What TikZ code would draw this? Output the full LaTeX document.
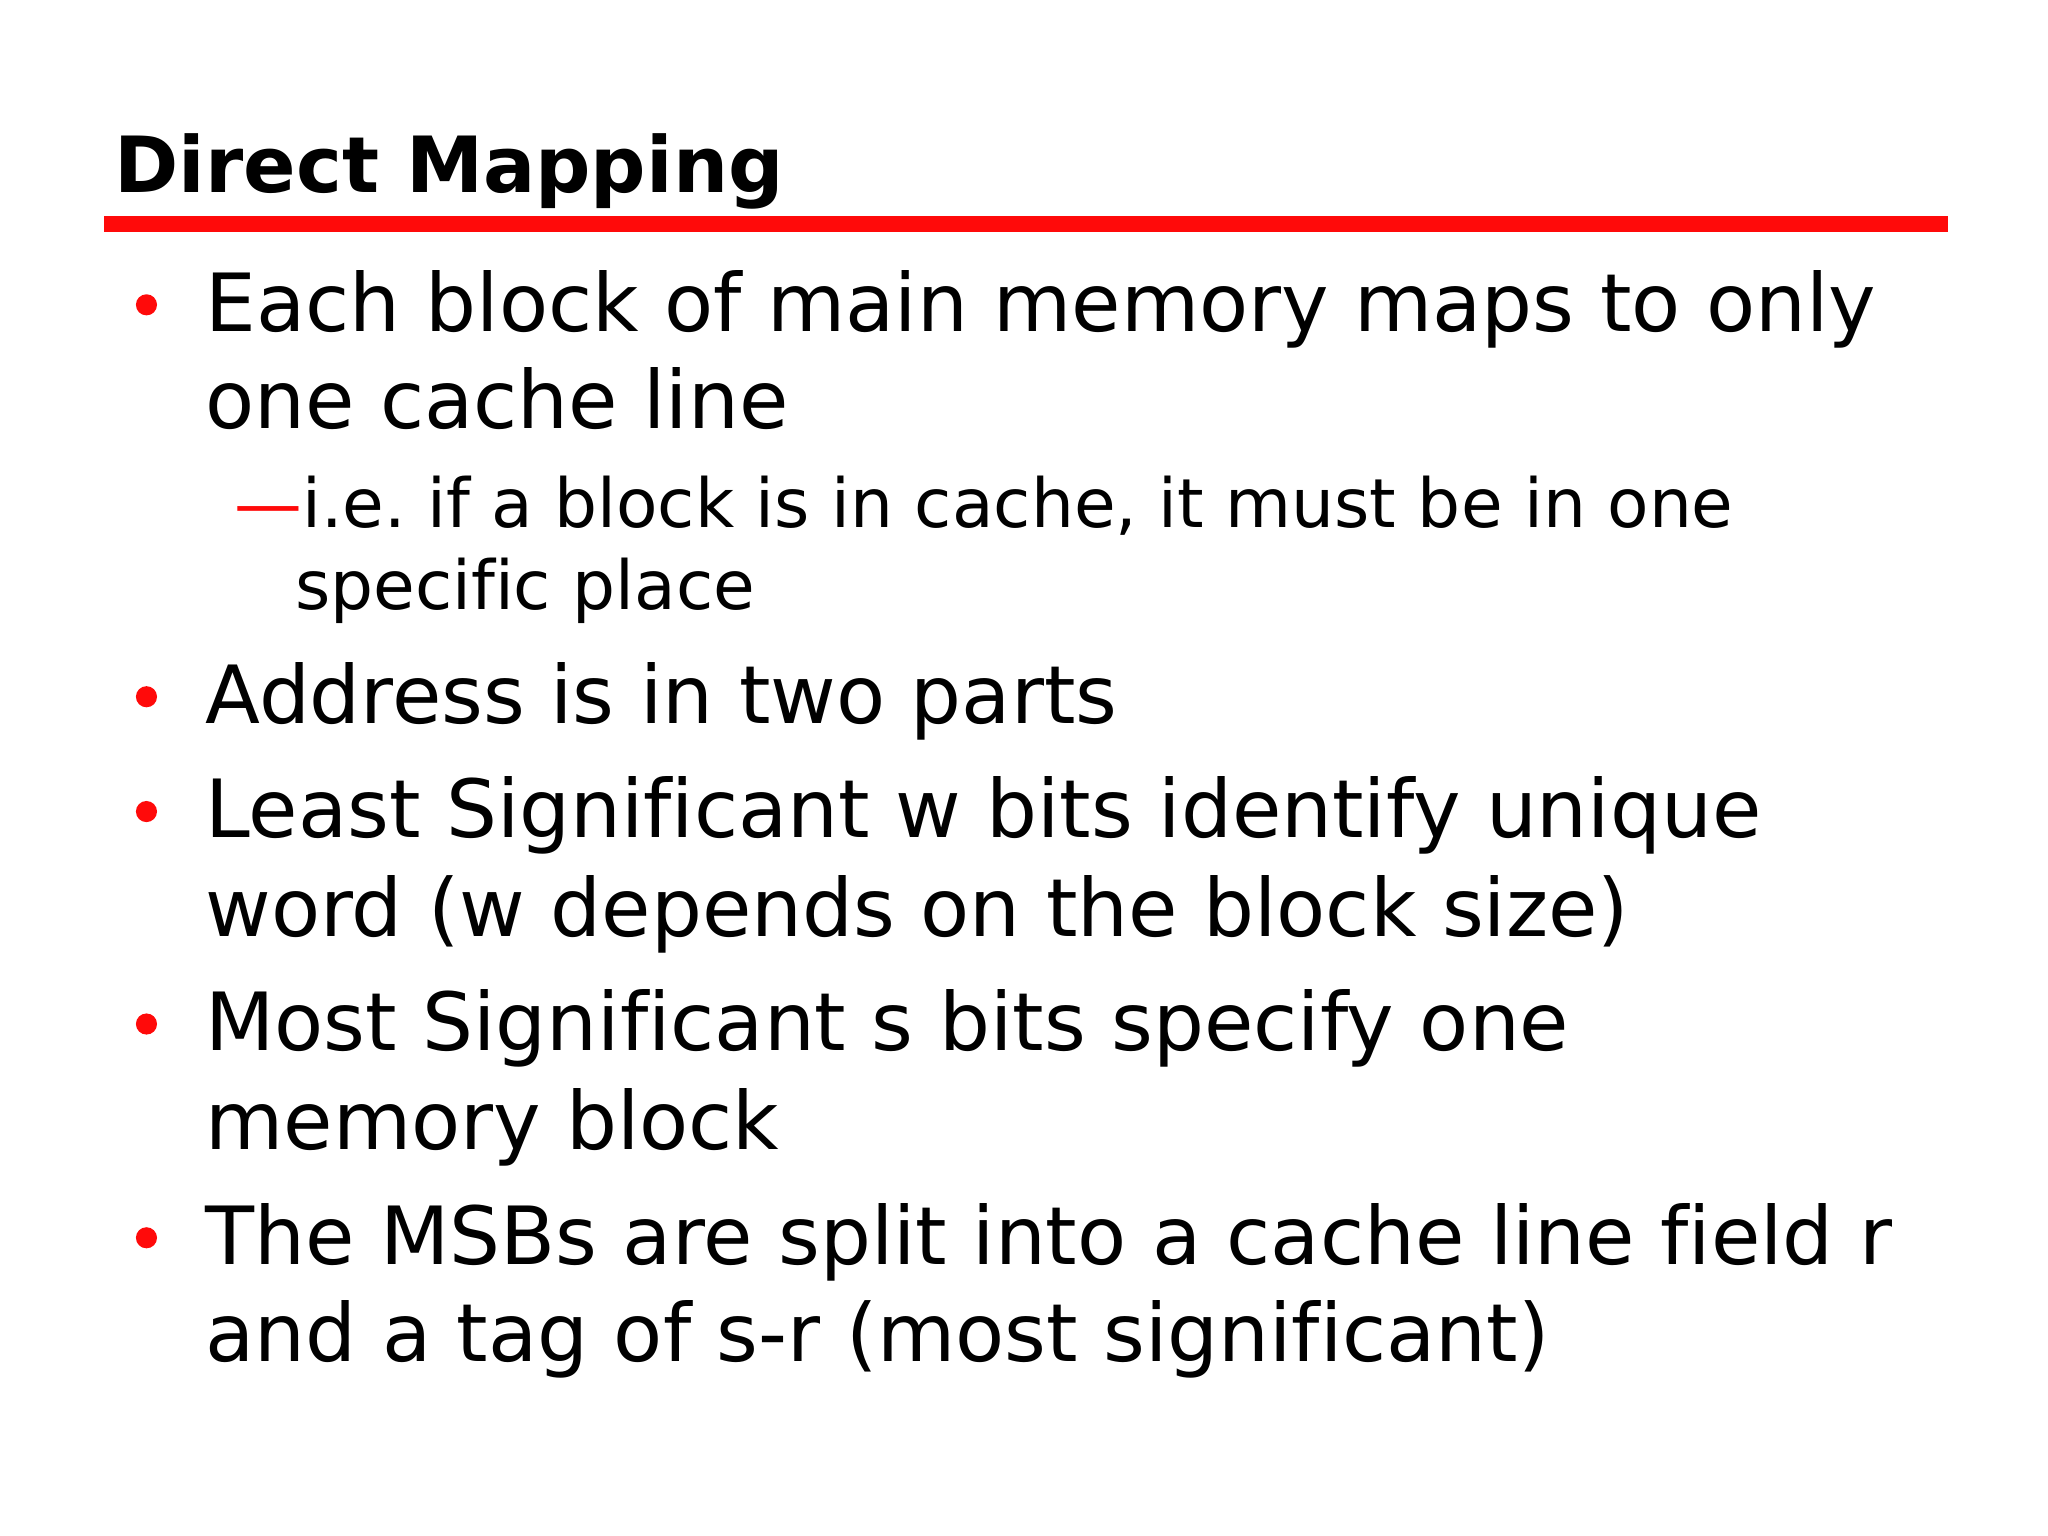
\documentclass[tikz,border=0pt]{standalone}
\usepackage{fontspec}
\setmainfont[Ligatures=NoCommon]{DejaVu Sans}
\definecolor{sred}{RGB}{255,10,10}
\begin{document}
\frenchspacing
\begin{tikzpicture}[x=0.01cm,y=-0.01cm,
  big/.style={anchor=base west,inner sep=0,font=\fontsize{17.3}{21}\selectfont},
  small/.style={anchor=base west,inner sep=0,font=\fontsize{14.6}{17}\selectfont},
  dot/.style={fill=sred,draw=none}]
\useasboundingbox (0,0) rectangle (1552,1164);
\node[anchor=base west,inner sep=0,font=\fontsize{16.7}{20}\selectfont\bfseries] (title) at (86,146) {Direct Mapping};
\fill[sred] (79,164) rectangle (1476,176);
\foreach \y in {251,548,635,796,958} \fill[dot] (111,\y-20) circle (8);
\node[big] (l1) at (155,251) {Each block of main memory maps to only};
\node[big] (l2) at (155,325) {one cache line};
\node[small] (s1) at (177,400) {\textcolor{sred}{—}i.e. if a block is in cache, it must be in one};
\node[small] (s2) at (223,462) {specific place};
\node[big] (l3) at (155,548) {Address is in two parts};
\node[big] (l4) at (155,635) {Least Significant w bits identify unique};
\node[big] (l5) at (155,710) {word (w depends on the block size)};
\node[big] (l6) at (155,796) {Most Significant s bits specify one};
\node[big] (l7) at (155,871) {memory block};
\node[big] (l8) at (155,958) {The MSBs are split into a cache line field r};
\node[big] (l9) at (155,1032) {and a tag of s-r (most significant)};
\end{tikzpicture}
\end{document}
